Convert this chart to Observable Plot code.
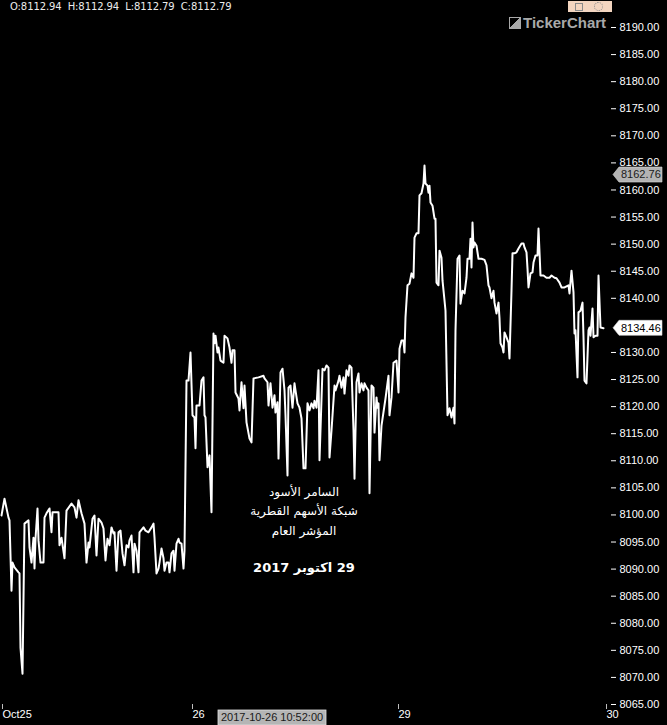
<!DOCTYPE html>
<html>
<head>
<meta charset="utf-8">
<script src="https://cdn.jsdelivr.net/npm/d3@7"></script>
<script src="https://cdn.jsdelivr.net/npm/@observablehq/plot@0.6"></script>
<style>
  html, body { margin: 0; padding: 0; background: #000; }
  #wrap { position: relative; width: 667px; height: 725px; overflow: hidden; background: #000; }
  #wrap svg { display: block; }
  .ohlc { position: absolute; left: 10px; top: 1px; color: #ececec; font: 10px "DejaVu Sans", Verdana, sans-serif; white-space: pre; letter-spacing: -0.1px; }
  .icons { position: absolute; left: 568px; top: 1px; width: 44px; height: 11px; background: #f3d5c0; }
  .icons .sq { position: absolute; left: 7px; top: 2px; width: 6px; height: 6px; border: 1px solid #8a8a8a; }
  .icons .gear { position: absolute; left: 26px; top: 1px; width: 7px; height: 7px; border: 1.5px dotted #8a8a8a; border-radius: 50%; }
  .logo { position: absolute; left: 509px; top: 14px; color: #a9a9a9; font: bold 15px "Liberation Sans", Arial, sans-serif; white-space: nowrap; }
  .logo .mk { display: inline-block; width: 10px; height: 10px; margin-right: 2px; border: 1px solid #a9a9a9; background: linear-gradient(135deg, #000 50%, #a9a9a9 50%); vertical-align: -1px; }
  .note { position: absolute; width: 200px; left: 204px; text-align: center; direction: rtl; color: #fff; font: 12px "DejaVu Sans", sans-serif; white-space: nowrap; }
  .note.bold { font-weight: bold; font-size: 13px; }
</style>
</head>
<body>
<div id="wrap"></div>
<script>
// ---- data (bar index, close) ----
const oct25Bar = [
  0, 3, 7, 8, 10, 11, 13, 17, 18, 19,
  21, 23, 27, 28, 30, 32, 33, 34, 36, 37,
  39, 42, 43, 45, 48, 50, 51, 57, 58, 60,
  63, 65, 70, 73, 75, 77, 80, 83, 85, 87,
  88, 91, 93, 95, 97, 100, 102, 104, 106, 108,
  110, 112, 113, 115, 117, 119, 121, 123, 125, 127,
  128, 130, 132, 133, 135, 137, 138, 142, 144, 147,
  150, 152, 153, 155, 157, 158, 160, 162, 163, 165,
  167, 168, 170, 172, 173, 175, 177, 178, 180, 182,
  183
];
const oct25Close = [
  8099.9, 8103.0, 8099.5, 8099.0, 8086.0, 8091.2, 8090.3, 8089.4, 8089.2, 8075.5,
  8070.7, 8098.4, 8099.0, 8094.0, 8091.2, 8095.8, 8090.1, 8095.6, 8101.2, 8095.3,
  8091.2, 8091.2, 8099.5, 8100.3, 8101.2, 8096.8, 8100.5, 8100.5, 8094.4, 8095.8,
  8092.0, 8100.8, 8102.1, 8101.4, 8099.5, 8102.7, 8100.3, 8098.4, 8091.2, 8094.9,
  8094.0, 8099.3, 8099.9, 8092.5, 8099.3, 8098.6, 8097.5, 8091.6, 8095.6, 8094.4,
  8097.7, 8096.6, 8096.8, 8089.7, 8096.8, 8097.1, 8092.9, 8090.7, 8094.4, 8094.0,
  8095.3, 8096.2, 8089.4, 8094.7, 8093.4, 8089.4, 8096.8, 8097.7, 8097.1, 8096.8,
  8097.7, 8098.4, 8095.8, 8089.2, 8090.1, 8091.2, 8093.8, 8092.0, 8089.7, 8091.2,
  8091.2, 8089.4, 8092.9, 8093.4, 8089.7, 8094.7, 8095.6, 8094.9, 8094.7, 8090.1,
  8093.4
];
const oct26Bar = [
  185, 187, 189, 191, 193, 194, 195, 198, 200, 202,
  203, 204, 206, 208, 210, 212, 213, 214, 216, 217,
  219, 222, 223, 226, 228, 230, 231, 233, 234, 237,
  238, 240, 242, 243, 245, 248, 250, 252, 257, 262,
  263, 266, 267, 269, 271, 273, 274, 276, 277, 279,
  281, 283, 284, 286, 287, 289, 291, 293, 294, 296,
  298, 300, 302, 304, 306, 308, 310, 312, 313, 315,
  317, 318, 321, 323, 325, 327, 328, 330, 333, 334,
  337, 338, 340, 342, 343, 345, 347, 348, 350, 352,
  353, 355, 357, 358, 360, 362, 363, 365, 367, 368,
  370, 372, 373, 375, 376, 377, 378, 380, 384, 387,
  388, 390, 392, 395
];
const oct26Close = [
  8124.8, 8124.8, 8130.0, 8118.4, 8118.0, 8112.3, 8120.2, 8120.2, 8124.8, 8125.4,
  8118.4, 8118.0, 8108.8, 8111.0, 8100.5, 8133.5, 8131.7, 8133.1, 8130.0, 8130.9,
  8128.5, 8128.1, 8133.1, 8132.6, 8130.9, 8128.1, 8130.4, 8130.4, 8122.6, 8121.5,
  8119.3, 8124.5, 8119.7, 8123.9, 8117.1, 8114.1, 8113.4, 8125.2, 8125.4, 8125.7,
  8125.2, 8124.5, 8120.2, 8124.3, 8119.8, 8122.1, 8118.9, 8120.8, 8110.4, 8126.3,
  8127.0, 8123.0, 8118.4, 8107.3, 8123.5, 8123.9, 8119.8, 8124.3, 8123.0, 8120.6,
  8119.8, 8117.8, 8108.6, 8108.6, 8120.6, 8119.3, 8120.6, 8119.7, 8121.1, 8119.8,
  8126.7, 8110.1, 8127.0, 8126.7, 8127.6, 8127.2, 8110.6, 8115.6, 8123.9, 8123.0,
  8124.8, 8125.7, 8123.5, 8125.4, 8122.4, 8126.7, 8125.7, 8127.6, 8127.2, 8115.6,
  8106.7, 8124.5, 8126.1, 8122.6, 8124.3, 8123.0, 8124.3, 8123.5, 8123.0, 8104.0,
  8123.9, 8123.5, 8115.2, 8121.7, 8119.8, 8120.6, 8110.1, 8116.5, 8121.5, 8125.7,
  8118.4, 8121.7, 8128.1, 8128.5
];
const oct29Bar = [
  397, 398, 400, 402, 403, 404, 406, 408, 410, 412,
  413, 415, 417, 418, 420, 422, 423, 424, 426, 427,
  428, 429, 431, 433, 434, 435, 437, 438, 440, 441,
  443, 444, 446, 448, 450, 452, 453, 454, 456, 458,
  459, 461, 463, 465, 466, 468, 469, 470, 471, 472,
  473, 475, 477, 480, 483, 485, 487, 488, 490, 492,
  493, 495, 497, 498, 499, 501, 502, 503, 505, 507,
  508, 510, 511, 513, 515, 517, 520, 522, 523, 525,
  526, 527, 529, 531, 532, 534, 536, 537, 539, 542,
  545, 548, 550, 553, 555, 558, 560, 563, 567, 568,
  570, 572, 573, 574, 576, 577, 579, 581, 582, 583,
  585, 587, 588, 589, 591, 592, 594, 596, 597, 599,
  602
];
const oct29Close = [
  8122.6, 8130.7, 8132.2, 8132.2, 8130.0, 8136.5, 8142.4, 8142.7, 8144.6, 8143.8,
  8151.2, 8152.0, 8152.0, 8159.0, 8159.4, 8161.2, 8164.5, 8161.2, 8160.8, 8159.5,
  8160.8, 8157.7, 8157.1, 8154.7, 8154.7, 8142.9, 8142.4, 8148.8, 8147.5, 8143.3,
  8139.6, 8137.7, 8118.4, 8119.7, 8118.0, 8119.8, 8116.9, 8134.1, 8147.3, 8147.9,
  8139.0, 8141.4, 8140.9, 8143.8, 8147.3, 8147.3, 8151.0, 8145.7, 8154.0, 8149.4,
  8150.3, 8149.7, 8147.3, 8147.3, 8147.1, 8146.1, 8142.4, 8142.0, 8140.0, 8141.4,
  8139.2, 8137.2, 8139.2, 8136.3, 8131.7, 8130.9, 8130.0, 8133.7, 8132.8, 8131.8,
  8128.9, 8141.4, 8148.3, 8148.3, 8148.5, 8149.2, 8150.1, 8150.1, 8149.4, 8148.5,
  8145.5, 8142.0, 8144.6, 8144.8, 8146.6, 8147.9, 8147.9, 8152.9, 8144.2, 8144.2,
  8143.8, 8143.8, 8144.2, 8143.8, 8143.7, 8142.9, 8142.0, 8142.0, 8142.4, 8140.9,
  8145.1, 8141.1, 8133.5, 8134.1, 8125.4, 8137.4, 8137.7, 8139.2, 8132.8, 8124.8,
  8124.3, 8134.1, 8134.6, 8133.1, 8138.1, 8132.8, 8133.1, 8133.1, 8144.2, 8134.6,
  8134.46
];

// ---- axes / labels (8135.00 is hidden under the last-price tag in the reference) ----
const xTickBars = [0, 190, 396, 604];
const xTickLabels = ["Oct25", "26", "29", "30"];
const yTicks = [8065, 8070, 8075, 8080, 8085, 8090, 8095, 8100, 8105, 8110, 8115, 8120, 8125,
                8130, 8140, 8145, 8150, 8155, 8160, 8165, 8170, 8175, 8180, 8185, 8190];
const yDomain = [8065, 8190];
const xDomain = [0, 609];
const lastClose = 8134.46;
const crossValue = 8162.76;
const crossBar = 271;
const crossLabel = "2017-10-26 10:52:00";
const ohlcLabels = ["O:8112.94", "H:8112.94", "L:8112.79", "C:8112.79"];
const noteLines = ["السامر الأسود", "شبكة الأسهم القطرية", "المؤشر العام"];
const dateNote = "29 اكتوبر 2017";
const brand = "TickerChart";

// ---- build table ----
const data = [];
[[oct25Bar, oct25Close], [oct26Bar, oct26Close], [oct29Bar, oct29Close]].forEach(([b, c]) => {
  b.forEach((v, i) => data.push({bar: v, close: c[i]}));
});

const W = 667, H = 725;
const chart = Plot.plot({
  width: W,
  height: H,
  marginLeft: 1,
  marginRight: 57,
  marginTop: 27,
  marginBottom: 21,
  style: {background: "#000", color: "#fff", fontFamily: "'Liberation Sans', Arial, sans-serif", fontSize: "11px"},
  x: {domain: xDomain},
  y: {domain: yDomain},
  marks: [
    Plot.axisY({anchor: "right", ticks: yTicks, tickSize: 5, tickPadding: 4,
      tickFormat: d => d.toFixed(2), stroke: "#fff", fill: "#fff", label: null, fontSize: 11}),
    Plot.axisX({ticks: xTickBars, tickFormat: d => xTickLabels[xTickBars.indexOf(d)],
      tickSize: 5, tickPadding: 1, textAnchor: "start", dx: 1,
      stroke: "#bdbdbd", fill: "#fff", label: null, fontSize: 11}),
    Plot.line(data, {x: "bar", y: "close", stroke: "#fff", strokeWidth: 2})
  ]
});

const wrap = document.getElementById("wrap");
wrap.appendChild(chart);

// ---- price tags and crosshair label, placed through the chart's scales ----
const sx = chart.scale("x");
const sy = chart.scale("y");
const svg = d3.select(chart);
const rightEdge = W - 57;

function priceTag(value, fill, textFill) {
  const yc = sy.apply(value);
  const g = svg.append("g");
  g.append("path")
    .attr("d", `M${rightEdge + 3},${yc} L${rightEdge + 9},${yc - 7.5} L${W - 5},${yc - 7.5} L${W - 5},${yc + 7.5} L${rightEdge + 9},${yc + 7.5} Z`)
    .attr("fill", fill).attr("stroke", "#d8d8d8").attr("stroke-width", 0.6);
  g.append("text")
    .attr("x", rightEdge + 11).attr("y", yc).attr("dy", "0.35em")
    .attr("text-anchor", "start")
    .attr("fill", textFill).attr("font-size", 11)
    .attr("font-family", "'Liberation Sans', Arial, sans-serif")
    .text(value.toFixed(2));
}
priceTag(crossValue, "#b3b3b3", "#1a1a1a");
priceTag(lastClose, "#ffffff", "#000000");

const cx = sx.apply(crossBar);
const box = svg.append("g");
box.append("rect").attr("x", cx - 54).attr("y", H - 15).attr("width", 108).attr("height", 15)
  .attr("fill", "#b5b5b5").attr("stroke", "#e0e0e0").attr("stroke-width", 0.8);
box.append("text").attr("x", cx - 51).attr("y", H - 7.5).attr("dy", "0.35em")
  .attr("text-anchor", "start")
  .attr("fill", "#1a1a1a").attr("font-size", 11)
  .attr("font-family", "'Liberation Sans', Arial, sans-serif")
  .text(crossLabel);

// ---- HTML overlays ----
const o = document.createElement("div");
o.className = "ohlc";
o.textContent = ohlcLabels.join("  ");
wrap.appendChild(o);

const ic = document.createElement("div");
ic.className = "icons";
ic.innerHTML = '<span class="sq"></span><span class="gear"></span>';
wrap.appendChild(ic);

const lg = document.createElement("div");
lg.className = "logo";
lg.innerHTML = '<span class="mk"></span>';
lg.appendChild(document.createTextNode(brand));
wrap.appendChild(lg);

const noteTops = [485, 504, 524];
noteLines.forEach((t, i) => {
  const d = document.createElement("div");
  d.className = "note";
  d.style.top = noteTops[i] + "px";
  d.textContent = t;
  wrap.appendChild(d);
});
const dn = document.createElement("div");
dn.className = "note bold";
dn.style.top = "560px";
dn.textContent = dateNote;
wrap.appendChild(dn);
</script>
</body>
</html>
